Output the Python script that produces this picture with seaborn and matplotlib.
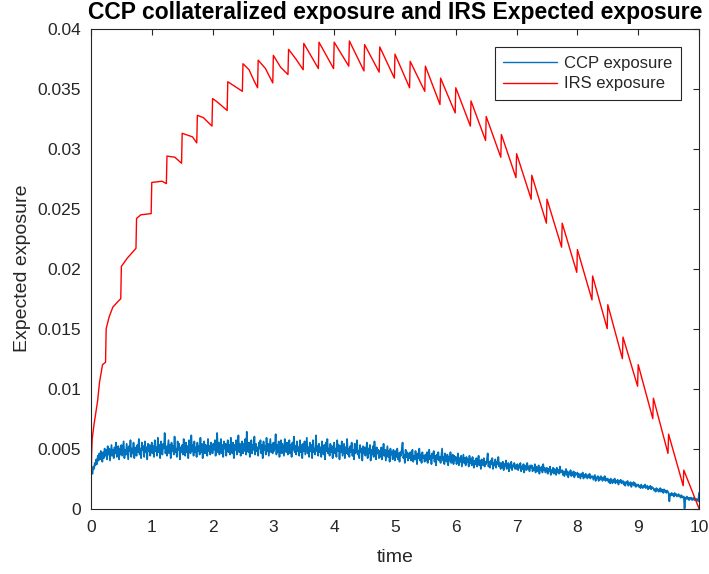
import numpy as np
import pandas as pd
import matplotlib
matplotlib.use("Agg")
import matplotlib.pyplot as plt
import seaborn as sns
from matplotlib.ticker import FixedLocator, FixedFormatter

# ---- data (exposures in basis points, 1 bp = 1e-4) ----
# CCP collateralized exposure, sampled every 0.0125 years from 0 to 10
# (one row = one quarter of a year)
ccp_bp = [
    27, 31, 29, 35, 33, 38, 36, 41, 37, 44, 40, 46, 41, 48, 43, 39, 47, 42, 50, 44,
    49, 41, 52, 45, 50, 40, 47, 53, 44, 49, 42, 51, 46, 55, 43, 48, 52, 41, 50, 45,
    53, 44, 50, 56, 42, 49, 45, 54, 47, 41, 52, 48, 57, 43, 50, 46, 55, 42, 51, 47,
    44, 53, 47, 58, 45, 50, 42, 55, 49, 52, 43, 56, 47, 51, 41, 54, 48, 53, 44, 50,
    55, 46, 52, 43, 57, 48, 51, 44, 59, 47, 53, 42, 56, 49, 45, 54, 50, 63, 46, 52,
    44, 51, 57, 46, 53, 42, 55, 48, 52, 45, 60, 47, 50, 43, 56, 49, 54, 41, 51, 47,
    53, 45, 58, 49, 44, 55, 47, 52, 42, 57, 50, 46, 61, 48, 53, 44, 56, 47, 51, 43,
    55, 48, 52, 45, 59, 47, 54, 42, 51, 56, 46, 53, 49, 44, 58, 48, 52, 45, 55, 50,
    46, 54, 49, 57, 44, 52, 63, 47, 55, 45, 51, 58, 46, 53, 43, 56, 50, 54, 44, 52,
    57, 47, 53, 45, 59, 50, 46, 55, 42, 53, 49, 57, 45, 52, 61, 47, 54, 44, 51, 56,
    46, 54, 48, 58, 45, 64, 50, 47, 55, 43, 52, 57, 46, 53, 49, 60, 45, 54, 48, 51,
    44, 55, 50, 57, 46, 53, 42, 56, 49, 52, 45, 59, 48, 54, 44, 51, 58, 47, 53, 46,
    55, 48, 52, 62, 45, 53, 47, 56, 43, 51, 57, 46, 54, 49, 44, 58, 50, 47, 55, 45,
    52, 57, 46, 53, 43, 55, 49, 60, 47, 52, 45, 56, 48, 51, 44, 57, 47, 53, 42, 54,
    48, 56, 45, 52, 59, 46, 51, 43, 55, 48, 53, 42, 57, 47, 50, 45, 61, 48, 52, 44,
    54, 47, 51, 43, 56, 49, 45, 53, 41, 55, 48, 58, 46, 50, 44, 54, 47, 52, 42, 51,
    55, 46, 50, 43, 57, 48, 53, 41, 52, 47, 56, 44, 49, 54, 42, 51, 46, 58, 45, 50,
    43, 52, 47, 55, 44, 49, 41, 54, 46, 51, 57, 45, 48, 42, 53, 47, 50, 40, 52, 46,
    51, 44, 48, 55, 42, 50, 46, 53, 40, 49, 45, 52, 43, 56, 47, 41, 51, 46, 49, 42,
    48, 43, 51, 41, 47, 54, 44, 49, 40, 46, 52, 43, 48, 39, 50, 45, 47, 41, 49, 44,
    40, 48, 43, 50, 41, 46, 39, 47, 44, 50, 55, 42, 45, 38, 49, 43, 47, 40, 46, 42,
    47, 40, 45, 49, 39, 44, 41, 48, 43, 37, 46, 42, 50, 40, 45, 38, 47, 42, 44, 39,
    45, 40, 47, 38, 43, 49, 41, 44, 37, 46, 42, 48, 39, 44, 36, 45, 41, 47, 40, 43,
    38, 44, 50, 40, 43, 37, 46, 41, 39, 45, 36, 43, 40, 47, 38, 42, 45, 37, 44, 40,
    43, 37, 41, 46, 36, 42, 39, 44, 35, 40, 45, 38, 42, 36, 43, 39, 41, 35, 44, 38,
    41, 36, 43, 38, 34, 40, 37, 42, 35, 39, 44, 36, 40, 33, 41, 38, 36, 42, 35, 39,
    37, 41, 46, 35, 39, 34, 40, 37, 42, 33, 38, 36, 41, 34, 39, 37, 43, 35, 38, 33,
    38, 34, 39, 32, 37, 35, 40, 33, 36, 38, 31, 37, 34, 39, 32, 36, 35, 38, 33, 36,
    33, 37, 32, 36, 34, 38, 31, 35, 33, 37, 30, 36, 34, 32, 38, 33, 35, 31, 36, 34,
    36, 31, 34, 32, 37, 30, 35, 33, 31, 36, 29, 34, 32, 35, 30, 37, 32, 34, 30, 33,
    34, 29, 33, 31, 35, 28, 32, 30, 34, 29, 33, 31, 28, 34, 30, 32, 29, 35, 30, 31,
    32, 28, 31, 27, 30, 33, 28, 31, 26, 30, 29, 32, 27, 30, 28, 31, 26, 30, 28, 29,
    30, 26, 29, 27, 25, 29, 27, 30, 25, 28, 26, 29, 27, 25, 28, 26, 29, 25, 27, 26,
    27, 24, 26, 28, 23, 26, 25, 27, 23, 26, 24, 27, 25, 23, 26, 24, 27, 23, 25, 24,
    25, 22, 24, 21, 25, 23, 21, 24, 22, 25, 21, 23, 22, 24, 20, 23, 22, 24, 21, 22,
    23, 20, 22, 19, 22, 21, 23, 19, 21, 20, 22, 18, 21, 20, 22, 19, 21, 18, 20, 19,
    20, 18, 19, 17, 20, 18, 17, 19, 18, 20, 17, 18, 19, 16, 18, 17, 19, 16, 18, 17,
    17, 15, 16, 14, 17, 15, 16, 14, 15, 17, 14, 16, 15, 13, 16, 14, 15, 13, 15, 14,
    13, 6, 12, 11, 13, 11, 12, 10, 13, 11, 12, 10, 11, 12, 10, 11, 9, 11, 10, 9,
    10, 0, 9, 8, 10, 8, 9, 7, 9, 8, 9, 7, 8, 9, 7, 8, 7, 8, 7, 6,
    13,
]

# IRS expected exposure: quarterly coupon resets produce the saw-tooth
irs_t = [
    0.00, 0.01, 0.02, 0.05, 0.08, 0.11, 0.14, 0.19, 0.24,
    0.25, 0.30, 0.36, 0.45, 0.49,
    0.50, 0.60, 0.74,
    0.75, 0.82, 0.99,
    1.00, 1.17, 1.24,
    1.25, 1.38, 1.49,
    1.50, 1.67, 1.74,
    1.75, 1.85, 1.99,
    2.00, 2.08, 2.24,
    2.25, 2.37, 2.49,
    2.50, 2.60, 2.68, 2.74,
    2.75, 2.87, 2.99,
    3.00, 3.12, 3.24,
    3.25, 3.37, 3.49,
    3.50, 3.74,
    3.75, 3.99,
    4.00, 4.24,
    4.25, 4.49,
    4.50, 4.74,
    4.75, 4.99,
    5.00, 5.24,
    5.25, 5.49,
    5.50, 5.74,
    5.75, 5.99,
    6.00, 6.24,
    6.25, 6.49,
    6.50, 6.74,
    6.75, 6.99,
    7.00, 7.24,
    7.25, 7.49,
    7.50, 7.74,
    7.75, 7.99,
    8.00, 8.24,
    8.25, 8.49,
    8.50, 8.74,
    8.75, 8.99,
    9.00, 9.24,
    9.25, 9.49,
    9.50, 9.74,
    9.75, 10.00,
]
irs_bp = [
    0, 45, 58, 70, 80, 90, 105, 120, 122,
    150, 160, 168, 173, 175,
    202, 209, 217,
    242, 245, 246,
    272, 273, 271,
    294, 293, 288,
    313, 310, 305,
    328, 326, 319,
    342, 339, 332,
    356, 352, 348,
    371, 366, 357, 351,
    374, 367, 355,
    378, 368, 362,
    383, 375, 366,
    388, 367,
    389, 367,
    389, 369,
    390, 365,
    387, 364,
    385, 359,
    379, 351,
    373, 348,
    369, 337,
    359, 330,
    351, 319,
    340, 307,
    327, 293,
    312, 276,
    296, 258,
    278, 238,
    258, 218,
    238, 197,
    216, 174,
    194, 150,
    170, 125,
    143, 102,
    120, 75,
    92, 46,
    62, 19,
    32, 0,
]

x_ticks = [0, 1, 2, 3, 4, 5, 6, 7, 8, 9, 10]
y_ticks = [0, 0.005, 0.01, 0.015, 0.02, 0.025, 0.03, 0.035, 0.04]
y_tick_labels = ["0", "0.005", "0.01", "0.015", "0.02", "0.025", "0.03", "0.035", "0.04"]

series_names = ["CCP exposure", "IRS exposure"]
series_colors = ["#0072BD", "#FF0000"]

# ---- tidy frames ----
ccp_t = np.linspace(0, 10, len(ccp_bp))
ccp_df = pd.DataFrame({"time": ccp_t, "exposure": np.array(ccp_bp) / 1e4,
                       "series": series_names[0]})
irs_df = pd.DataFrame({"time": irs_t, "exposure": np.array(irs_bp) / 1e4,
                       "series": series_names[1]})

# ---- styling ----
sns.set_style("white")
plt.rcParams["font.family"] = ["Liberation Sans", "DejaVu Sans"]
ink = "#262626"

fig = plt.figure(figsize=(7.09, 5.74), dpi=100)
ax = fig.add_axes([0.1283, 0.1141, 0.9859 - 0.1283, 0.9495 - 0.1141])

sns.lineplot(data=ccp_df, x="time", y="exposure", color=series_colors[0],
             linewidth=1.25, estimator=None, sort=False, label=series_names[0], ax=ax)
sns.lineplot(data=irs_df, x="time", y="exposure", color=series_colors[1],
             linewidth=1.0, estimator=None, sort=False, label=series_names[1], ax=ax)

ax.set_xlim(0, 10)
ax.set_ylim(0, 0.04)
ax.xaxis.set_major_locator(FixedLocator(x_ticks))
ax.yaxis.set_major_locator(FixedLocator(y_ticks))
ax.yaxis.set_major_formatter(FixedFormatter(y_tick_labels))

for side in ["left", "right", "top", "bottom"]:
    ax.spines[side].set_visible(True)
    ax.spines[side].set_color(ink)
    ax.spines[side].set_linewidth(0.8)

ax.tick_params(axis="both", which="major", direction="in", length=4,
               width=0.8, color=ink, labelcolor=ink, labelsize=12.5,
               top=True, right=True)
ax.tick_params(axis="x", pad=8)
ax.tick_params(axis="y", pad=7)

ax.set_xlabel("time", fontsize=14, color=ink, labelpad=10)
ax.set_ylabel("Expected exposure", fontsize=14, color=ink, labelpad=5)
ax.set_title("CCP collateralized exposure and IRS Expected exposure",
             fontsize=16.5, fontweight="bold", color="black", pad=7)

leg = ax.legend(loc="upper right", fontsize=12, frameon=True, fancybox=False,
                framealpha=1, edgecolor=ink, handlelength=3.2, handletextpad=0.45,
                labelspacing=0.35, borderaxespad=1.1, borderpad=0.5)
leg.get_frame().set_linewidth(0.8)
for line in leg.get_lines():
    line.set_linewidth(1.0)
for txt in leg.get_texts():
    txt.set_color(ink)

fig.savefig("out.png", dpi=100, facecolor="white")
